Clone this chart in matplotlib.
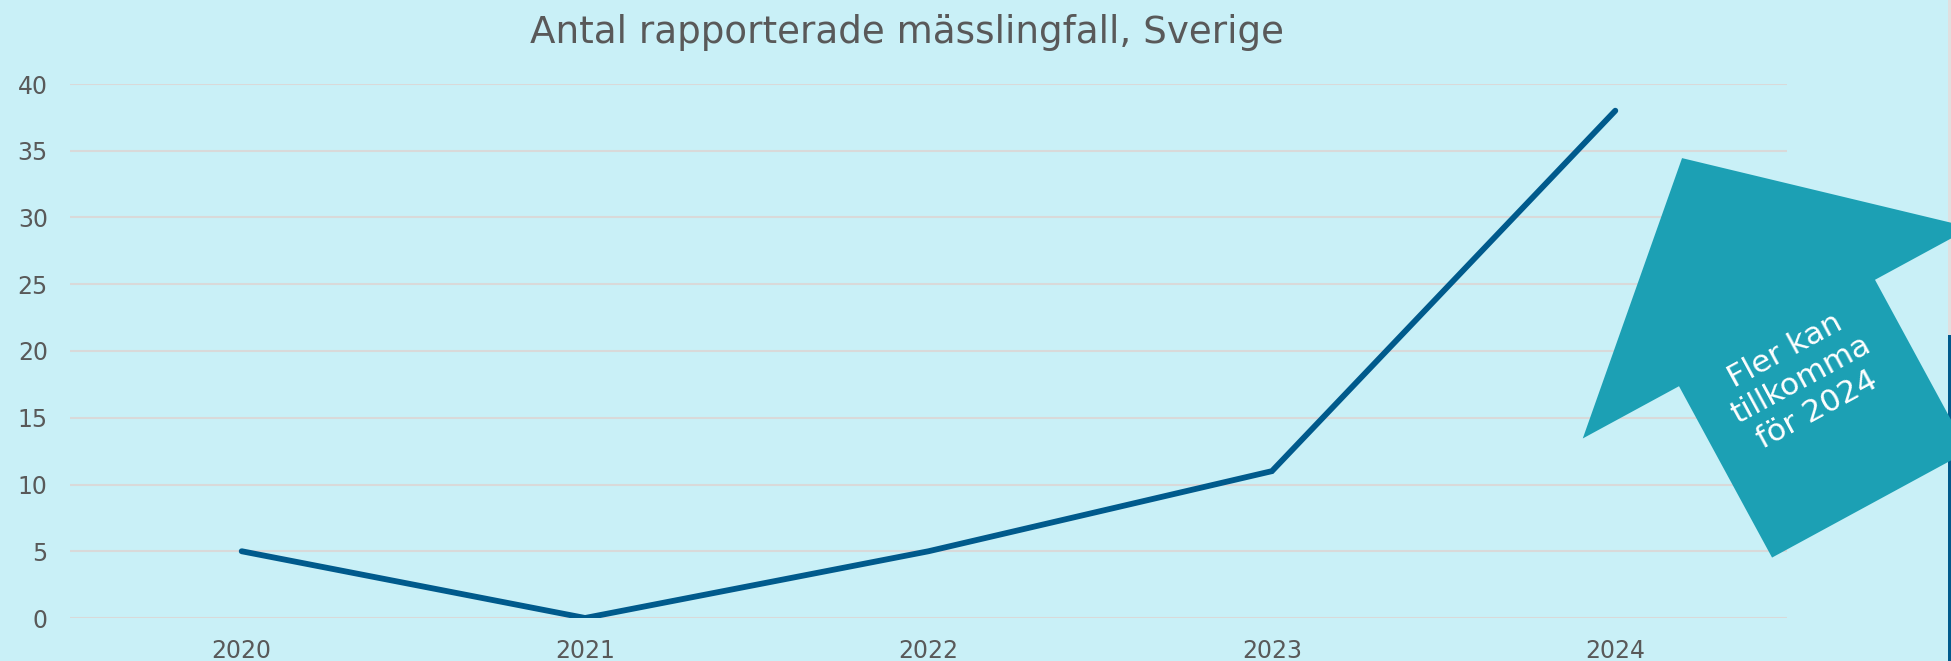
import numpy as np
import matplotlib
matplotlib.use("Agg")
import matplotlib.pyplot as plt
from matplotlib.patches import Polygon, Rectangle

# ---- data ----
years = ["2020", "2021", "2022", "2023", "2024"]
cases = [5, 0, 5, 11, 38]
y_ticks = [0, 5, 10, 15, 20, 25, 30, 35, 40]
title = "Antal rapporterade mässlingfall, Sverige"
note = "Fler kan\ntillkomma\nför 2024"

# ---- style ----
W, H = 1951, 661
bg = "#c9f0f7"
line_col = "#005a8c"
arrow_col = "#1ca0b4"
text_col = "#595959"
grid_col = "#d9d9d9"

plt.rcParams['font.family'] = ['DejaVu Sans']

fig = plt.figure(figsize=(W / 100, H / 100), dpi=100, facecolor=bg)
ax = fig.add_axes([70 / W, 1 - 618 / H, (1787 - 70) / W, (618 - 84) / H])
ax.set_facecolor(bg)

x = np.arange(len(years))
ax.plot(x, cases, color=line_col, lw=4.2, solid_capstyle='round',
        solid_joinstyle='miter', zorder=3)

ax.set_xlim(-0.5, len(years) - 0.5)
ax.set_ylim(0, 40)
ax.set_yticks(y_ticks)
ax.set_xticks(x)
ax.set_xticklabels(years)
ax.tick_params(axis='both', length=0, labelsize=17, labelcolor=text_col)
ax.tick_params(axis='y', pad=16)
ax.tick_params(axis='x', pad=15)
ax.grid(axis='y', color=grid_col, lw=1.5)
ax.set_axisbelow(True)
for s in ax.spines.values():
    s.set_visible(False)

fig.text(907 / W, 1 - 42.7 / H, title, ha='center', va='baseline',
         fontsize=26.8, color=text_col)

# ---- rotated up-arrow annotation (figure pixel geometry) ----
ang = np.deg2rad(28.5)
u = np.array([-np.sin(ang), np.cos(ang)])      # arrow direction (y up)
p = np.array([np.cos(ang), np.sin(ang)])       # perpendicular
mid = np.array([1777.0, H - 333.0])
head_len, head_hw, shaft_hw, shaft_len = 199, 221, 111.5, 195
pts = [mid + head_len * u,
       mid + head_hw * p,
       mid + shaft_hw * p,
       mid + shaft_hw * p - shaft_len * u,
       mid - shaft_hw * p - shaft_len * u,
       mid - shaft_hw * p,
       mid - head_hw * p]
pts = np.array(pts) / np.array([W, H])
fig.patches.append(Polygon(pts, closed=True, transform=fig.transFigure,
                           facecolor=arrow_col, edgecolor='none', zorder=5))
fig.text(1801 / W, 1 - 380 / H, note, ha='center', va='center',
         rotation=28.5, rotation_mode='anchor', fontsize=22.5, color='white',
         linespacing=1.2, multialignment='center', zorder=6)

# right edge strips
fig.patches.append(Rectangle((1948 / W, 1 - 335 / H), 3 / W, 335 / H,
                             transform=fig.transFigure, facecolor="#e2dede",
                             edgecolor='none', zorder=4))
fig.patches.append(Rectangle((1948 / W, 0), 3 / W, 1 - 335 / H,
                             transform=fig.transFigure, facecolor=line_col,
                             edgecolor='none', zorder=4))

fig.savefig("out.png", dpi=100, facecolor=bg)
